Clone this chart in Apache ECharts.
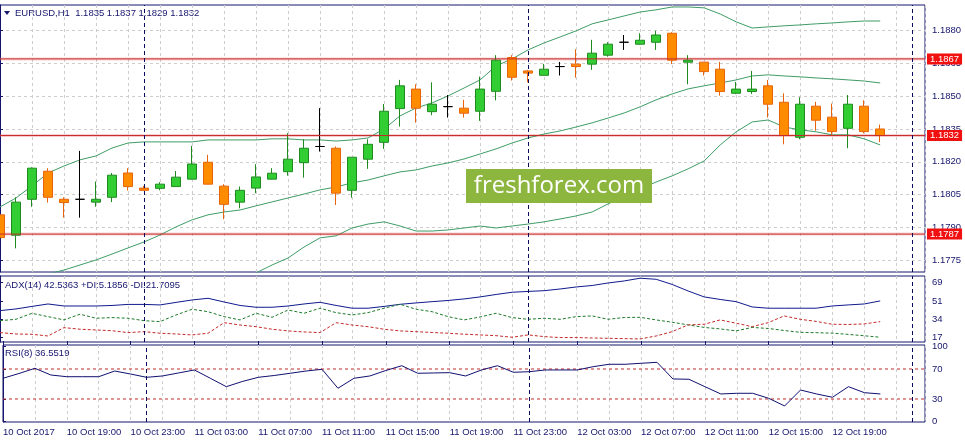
<!DOCTYPE html>
<html lang="en">
<head>
<meta charset="UTF-8">
<title>EURUSD,H1</title>
<script src="https://cdn.jsdelivr.net/npm/echarts@6.0.0/dist/echarts.min.js"></script>
<style>
  html, body { margin: 0; padding: 0; background: #fff; }
  #main { width: 965px; height: 445px; }
</style>
</head>
<body>
<div id="main"></div>
<script>
// H1 bars, 10 Oct 15:00 .. 12 Oct 22:00
const opens  = [1.17958,1.17865,1.18029,1.18157,1.18029,1.18029,1.18016,1.18038,1.18149,1.18080,1.18079,1.18087,1.18121,1.18198,1.18089,1.18016,
                1.18080,1.18121,1.18155,1.18196,1.18270,1.18262,1.18070,1.18212,1.18289,1.18443,1.18532,1.18429,1.18452,1.18445,1.18431,1.18522,
                1.18676,1.18615,1.18595,1.18635,1.18646,1.18646,1.18687,1.18746,1.18737,1.18746,1.18787,1.18655,1.18655,1.18623,1.18513,1.18521,
                1.18547,1.18472,1.18312,1.18454,1.18404,1.18353,1.18454,1.18350];
const highs  = [1.17965,1.18038,1.18175,1.18171,1.18038,1.18250,1.18110,1.18149,1.18171,1.18090,1.18107,1.18158,1.18273,1.18232,1.18098,1.18087,
                1.18189,1.18171,1.18331,1.18303,1.18445,1.18270,1.18221,1.18303,1.18464,1.18574,1.18554,1.18563,1.18505,1.18483,1.18589,1.18687,
                1.18687,1.18620,1.18647,1.18656,1.18714,1.18757,1.18746,1.18779,1.18787,1.18798,1.18792,1.18687,1.18656,1.18656,1.18565,1.18615,
                1.18574,1.18513,1.18495,1.18474,1.18466,1.18505,1.18481,1.18370];
const lows   = [1.17836,1.17805,1.17995,1.18014,1.17945,1.17945,1.17995,1.18016,1.18069,1.18067,1.18070,1.18085,1.18120,1.18098,1.17938,1.17988,
                1.18057,1.18120,1.18137,1.18128,1.18247,1.18003,1.18036,1.18168,1.18259,1.18361,1.18379,1.18413,1.18402,1.18402,1.18387,1.18481,
                1.18571,1.18563,1.18594,1.18594,1.18584,1.18620,1.18680,1.18711,1.18735,1.18711,1.18646,1.18554,1.18594,1.18502,1.18509,1.18510,
                1.18402,1.18280,1.18303,1.18342,1.18323,1.18262,1.18330,1.18290];
const closes = [1.17854,1.18016,1.18171,1.18038,1.18014,1.18029,1.18029,1.18139,1.18087,1.18070,1.18098,1.18130,1.18190,1.18098,1.18006,1.18070,
                1.18131,1.18148,1.18212,1.18262,1.18270,1.18057,1.18221,1.18280,1.18431,1.18547,1.18445,1.18463,1.18452,1.18422,1.18532,1.18664,
                1.18586,1.18605,1.18623,1.18635,1.18635,1.18696,1.18737,1.18746,1.18755,1.18779,1.18664,1.18664,1.18612,1.18521,1.18532,1.18532,
                1.18463,1.18320,1.18463,1.18390,1.18338,1.18463,1.18338,1.18320];

// Bollinger bands
const bbUpper  = [1.17994,1.18035,1.18090,1.18149,1.18181,1.18209,1.18227,1.18263,1.18286,1.18291,1.18291,1.18291,1.18291,1.18300,1.18300,1.18300,
                  1.18300,1.18305,1.18305,1.18300,1.18300,1.18295,1.18300,1.18309,1.18350,1.18410,1.18446,1.18469,1.18501,1.18537,1.18574,1.18638,
                  1.18670,1.18711,1.18743,1.18770,1.18798,1.18830,1.18848,1.18866,1.18884,1.18894,1.18907,1.18907,1.18903,1.18875,1.18839,1.18811,
                  1.18816,1.18821,1.18825,1.18830,1.18834,1.18839,1.18843,1.18843];
const bbMiddle = [1.17592,1.17629,1.17652,1.17688,1.17706,1.17729,1.17752,1.17779,1.17807,1.17834,1.17866,1.17903,1.17935,1.17958,1.17971,1.17980,
                  1.17999,1.18017,1.18035,1.18053,1.18072,1.18085,1.18104,1.18117,1.18136,1.18154,1.18163,1.18181,1.18195,1.18213,1.18236,1.18259,
                  1.18286,1.18309,1.18327,1.18341,1.18359,1.18378,1.18400,1.18423,1.18451,1.18483,1.18510,1.18533,1.18547,1.18560,1.18574,1.18592,
                  1.18597,1.18592,1.18588,1.18583,1.18579,1.18574,1.18569,1.18560];
const bbLower  = [1.17190,1.17222,1.17210,1.17227,1.17232,1.17250,1.17277,1.17295,1.17327,1.17378,1.17442,1.17515,1.17579,1.17615,1.17642,1.17661,
                  1.17693,1.17729,1.17761,1.17811,1.17853,1.17862,1.17898,1.17916,1.17926,1.17907,1.17884,1.17884,1.17889,1.17898,1.17907,1.17898,
                  1.17907,1.17916,1.17926,1.17939,1.17953,1.17971,1.18008,1.18040,1.18076,1.18108,1.18136,1.18168,1.18204,1.18277,1.18337,1.18382,
                  1.18391,1.18359,1.18346,1.18337,1.18323,1.18323,1.18305,1.18277];

// ADX(14) window, as read against its own scale
const adx     = [42.5,44.1,46.5,48.8,46.9,46.9,46.9,47.4,48.4,48.4,47.9,50.3,52.6,54.2,50.7,47.4,45.7,45.7,46.9,48.8,50.4,47.4,44.8,44.8,
                 46.5,48.5,49.8,51.0,52.1,53.6,55.5,57.8,59.9,60.7,61.4,63.0,64.9,66.3,68.7,70.6,73.2,72.2,67.3,61.1,55.5,53.1,51.0,46.0,
                 44.8,44.8,44.8,44.8,46.9,47.9,48.8,51.7];
const plusDi  = [33.0,34.3,40.0,36.8,33.7,39.1,35.3,35.9,35.3,33.0,32.1,38.4,43.8,41.5,36.8,33.7,40.0,36.2,43.1,40.0,44.8,40.6,38.4,40.6,
                 44.8,48.5,43.8,41.5,36.8,33.7,36.5,40.0,35.9,34.3,35.3,34.3,36.8,37.5,34.3,36.0,36.2,33.7,31.5,29.0,26.6,25.2,23.3,26.6,
                 25.6,23.7,22.0,21.6,21.2,20.0,18.7,17.3];
const minusDi = [21.7,20.4,20.1,18.5,26.4,24.9,24.2,23.5,21.7,22.6,21.1,20.4,19.5,21.1,31.1,28.9,27.3,24.9,23.3,22.3,21.7,31.1,28.9,27.3,
                 24.9,23.3,22.6,21.8,21.1,20.2,19.5,18.8,17.3,19.5,17.9,17.0,17.0,16.6,16.3,16.0,15.7,18.5,22.6,29.0,29.6,33.7,30.6,27.3,
                 31.1,37.5,34.3,32.3,29.6,29.4,29.9,32.1];
const adxLast = [42.5363, 5.1856, 21.7095];

// RSI(8)
const rsi = [57.6,64.0,70.9,62.0,59.7,59.7,59.7,67.3,63.3,58.9,60.7,64.7,68.7,57.6,46.4,53.3,58.9,61.3,64.3,67.3,69.6,44.3,57.6,60.7,
             68.0,74.4,64.3,64.7,65.1,60.7,68.7,74.4,65.6,66.4,68.7,68.7,68.7,73.1,76.3,76.3,77.6,78.9,56.7,56.3,46.4,36.7,37.6,37.6,
             30.9,20.7,42.0,36.7,32.3,46.4,38.4,36.7];
const rsiLast = 36.5519;
const rsiLevels = [70, 30];

const levels = [1.1867, 1.1832, 1.1787];   // horizontal lines
const separators = [9, 33, 57];            // day separators (bar index)
const priceTicks = [1.1775, 1.1790, 1.1805, 1.1820, 1.1835, 1.1850, 1.1865, 1.1880];
const adxTicks = [17, 34, 51, 69];
const rsiTicks = [0, 30, 70, 100];
const timeLabels = ['10 Oct 2017','10 Oct 19:00','10 Oct 23:00','11 Oct 03:00','11 Oct 07:00','11 Oct 11:00','11 Oct 15:00',
                    '11 Oct 19:00','11 Oct 23:00','12 Oct 03:00','12 Oct 07:00','12 Oct 11:00','12 Oct 15:00','12 Oct 19:00'];
const labelStep = 4;

const NAVY = '#16166e';
const GRIDC = '#cdcdcd';
const RED = '#c42a2a';
const BAND = '#3f9c66';
const FONT = 'Liberation Sans';
const XMAX = 57.8;

const labelPos = timeLabels.map((t, i) => i * labelStep);
const pts = arr => arr.map((v, i) => [i, v]);

function xAxisFor(gi) {
  return {
    type: 'value', gridIndex: gi, min: 0, max: XMAX, interval: 2,
    axisLine: {show: false}, axisTick: {show: false}, axisLabel: {show: false},
    splitLine: {show: true, lineStyle: {color: GRIDC, type: [3, 3], width: 1}}
  };
}
function sepMark() {
  return {
    silent: true, symbol: ['none', 'none'], animation: false,
    lineStyle: {color: '#0a0a5a', type: [4, 3], width: 1}, label: {show: false},
    data: separators.map(k => ({xAxis: k}))
  };
}
// a horizontal level across the whole window
function levelSeries(v, xi, style, tag, z) {
  const s = {
    type: 'line', xAxisIndex: xi, yAxisIndex: xi, data: [[0, v], [XMAX, v]],
    symbol: 'none', silent: true, lineStyle: style, z: z
  };
  if (tag) {
    s.endLabel = {show: true, distance: 2, color: '#fff', backgroundColor: '#f01010', padding: [1, 3, 0, 3],
                  fontSize: 9.5, fontFamily: FONT, formatter: () => v.toFixed(4)};
  }
  return s;
}
function sideAxis(gi, min, max, ticks, fmt, split) {
  return {
    type: 'value', gridIndex: gi, position: 'right', min: min, max: max,
    axisLine: {show: true, lineStyle: {color: NAVY}},
    axisTick: {show: true, length: 3, customValues: ticks, lineStyle: {color: NAVY}},
    axisLabel: {customValues: ticks, formatter: fmt, color: NAVY, fontSize: 9.5, fontFamily: FONT, margin: 7},
    splitLine: {show: split, lineStyle: {color: GRIDC, type: [3, 3], width: 1}}
  };
}

const chart = echarts.init(document.getElementById('main'));
const last = opens.length - 1;

const rsiX = xAxisFor(2);
rsiX.axisLabel = {
  show: true, customValues: labelPos, align: 'left', color: NAVY, fontSize: 9.5, fontFamily: FONT, margin: 5,
  formatter: v => timeLabels[Math.round(v / labelStep)]
};

const series = [];
// soft pink halo under the price levels, then the lines themselves
levels.forEach(v => series.push(levelSeries(v, 0, {color: 'rgba(235,120,120,0.35)', width: 3}, false, 0)));
levels.forEach(v => series.push(levelSeries(v, 0, {color: RED, width: 1}, true, 3)));
rsiLevels.forEach(v => series.push(levelSeries(v, 2, {color: RED, width: 1, type: [3, 3]}, false, 1)));

series.push(
  {
    type: 'line', name: 'BB upper', xAxisIndex: 0, yAxisIndex: 0, data: pts(bbUpper),
    symbol: 'none', lineStyle: {color: BAND, width: 1}, z: 1,
    markLine: sepMark()
  },
  {
    type: 'line', name: 'BB middle', xAxisIndex: 0, yAxisIndex: 0, data: pts(bbMiddle),
    symbol: 'none', lineStyle: {color: BAND, width: 1}, z: 1
  },
  {
    type: 'line', name: 'BB lower', xAxisIndex: 0, yAxisIndex: 0, data: pts(bbLower),
    symbol: 'none', lineStyle: {color: BAND, width: 1}, z: 1
  },
  {
    type: 'candlestick', name: 'EURUSD', xAxisIndex: 0, yAxisIndex: 0, barWidth: 10,
    data: opens.map((o, i) => [i, o, closes[i], lows[i], highs[i]]),
    itemStyle: {color: '#32cd32', color0: '#ff8c00', borderColor: '#1f8a1f', borderColor0: '#e8640c',
                borderColorDoji: '#000000', borderWidth: 1},
    z: 2
  },
  {
    type: 'line', name: 'ADX', xAxisIndex: 1, yAxisIndex: 1, data: pts(adx),
    symbol: 'none', lineStyle: {color: '#0f1a8c', width: 1},
    markLine: sepMark()
  },
  {
    type: 'line', name: '+DI', xAxisIndex: 1, yAxisIndex: 1, data: pts(plusDi),
    symbol: 'none', lineStyle: {color: '#1e7a2a', width: 1, type: [3, 2]}
  },
  {
    type: 'line', name: '-DI', xAxisIndex: 1, yAxisIndex: 1, data: pts(minusDi),
    symbol: 'none', lineStyle: {color: RED, width: 1, type: [3, 2]}
  },
  {
    type: 'line', name: 'RSI', xAxisIndex: 2, yAxisIndex: 2, data: pts(rsi),
    symbol: 'none', lineStyle: {color: '#101070', width: 1}, z: 2,
    markLine: sepMark()
  }
);

const option = {
  animation: false,
  backgroundColor: '#fff',
  textStyle: {fontFamily: FONT},
  grid: [
    {left: 0, top: 5, width: 925, height: 267, show: true, borderColor: NAVY, borderWidth: 1, backgroundColor: '#fff'},
    {left: 0, top: 276, width: 925, height: 66, show: true, borderColor: NAVY, borderWidth: 1, backgroundColor: '#fff'},
    {left: 0, top: 345, width: 925, height: 77, show: true, borderColor: NAVY, borderWidth: 1, backgroundColor: '#fff'}
  ],
  xAxis: [
    xAxisFor(0), xAxisFor(1), rsiX,
    {type: 'value', gridIndex: 2, min: 0, max: XMAX, axisLine: {show: false}, splitLine: {show: false}, axisLabel: {show: false},
     axisTick: {show: true, length: 4, customValues: labelPos, lineStyle: {color: NAVY}}}
  ],
  yAxis: [
    sideAxis(0, 1.17697, 1.18916, priceTicks, v => v.toFixed(4), true),
    sideAxis(1, 12.8, 75.3, adxTicks, v => String(v), false),
    sideAxis(2, -0.7, 102, rsiTicks, v => String(v), false)
  ],
  series: series,
  graphic: [
    {type: 'polygon', shape: {points: [[4, 11], [10, 11], [7, 15]]}, style: {fill: NAVY}},
    {type: 'text', left: 15, top: 8,
     style: {text: 'EURUSD,H1  ' + [opens[last], highs[last], lows[last], closes[last]].map(v => v.toFixed(4)).join(' '),
             fill: NAVY, font: '9.5px "Liberation Sans"'}},
    {type: 'text', left: 5, top: 280,
     style: {text: 'ADX(14) ' + adxLast[0].toFixed(4) + ' +DI:' + adxLast[1].toFixed(4) + ' -DI:' + adxLast[2].toFixed(4),
             fill: NAVY, font: '9.5px "Liberation Sans"'}},
    {type: 'text', left: 5, top: 348,
     style: {text: 'RSI(8) ' + rsiLast.toFixed(4), fill: NAVY, font: '9.5px "Liberation Sans"'}},
    {type: 'rect', z: 100, shape: {x: 466, y: 169, width: 186, height: 34}, style: {fill: '#8db63e'}},
    {type: 'text', z: 101, x: 559, y: 186,
     style: {text: 'freshforex.com', fill: '#fff', font: '24px "Open Sans"', align: 'center', verticalAlign: 'middle'}}
  ]
};

chart.setOption(option);
</script>
</body>
</html>
